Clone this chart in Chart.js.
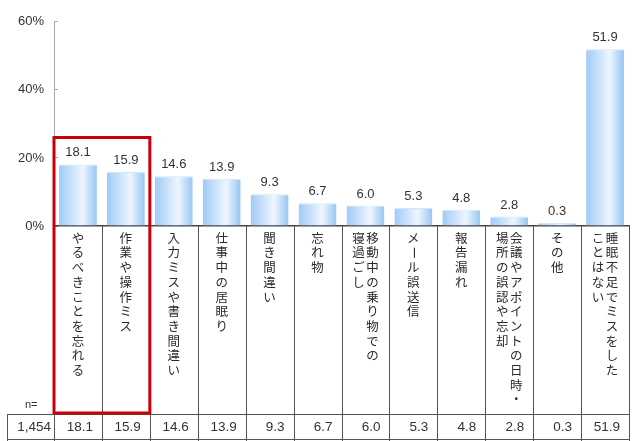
<!DOCTYPE html>
<html lang="ja">
<head>
<meta charset="utf-8">
<script src="https://cdn.jsdelivr.net/npm/chart.js@4.4.1/dist/chart.umd.min.js"></script>
<style>
  html, body { margin: 0; padding: 0; background: #fff; }
  #wrap { position: relative; width: 640px; height: 441px; }
</style>
</head>
<body>
<div id="wrap"><canvas id="grafico"></canvas></div>
<script>
// Categorías (cada elemento = columnas de texto vertical, de derecha a izquierda)
const categorias = [
    ['やるべきことを忘れる'],
    ['作業や操作ミス'],
    ['入力ミスや書き間違い'],
    ['仕事中の居眠り'],
    ['聞き間違い'],
    ['忘れ物'],
    ['移動中の乗り物での', '寝過ごし'],
    ['メール誤送信'],
    ['報告漏れ'],
    ['会議やアポイントの日時・', '場所の誤認や忘却'],
    ['その他'],
    ['睡眠不足でミスをした', 'ことはない']
];
const valores = [18.1, 15.9, 14.6, 13.9, 9.3, 6.7, 6.0, 5.3, 4.8, 2.8, 0.3, 51.9];
const ticksY = [0, 20, 40, 60];
const etiquetaN = 'n=';
const totalN = '1,454';
const resaltados = [0, 1];
const topeResaltado = 26; // valor del eje donde empieza el recuadro rojo

const fuenteLatina = '"Liberation Sans", Arial, sans-serif';
const fuenteJP = '"Noto Sans CJK JP", sans-serif';

// Layout (píxeles)
const filaArriba = 414;
const filaAbajo = 439;
const tablaIzq = 7;

function degradado(context) {
    const chart = context.chart;
    if (!chart.chartArea || !chart.scales.x) return '#b8dafa';
    const x = chart.scales.x.getPixelForValue(context.dataIndex);
    const w = (chart.scales.x.getPixelForValue(1) - chart.scales.x.getPixelForValue(0)) * 0.79 / 2;
    const g = chart.ctx.createLinearGradient(x - w, 0, x + w, 0);
    g.addColorStop(0, '#9fcbf6');
    g.addColorStop(0.62, '#eef6fe');
    g.addColorStop(1, '#96c6f4');
    return g;
}

const etiquetasBarras = {
    id: 'etiquetasBarras',
    afterDatasetsDraw(chart) {
        const ctx = chart.ctx;
        const meta = chart.getDatasetMeta(0);
        ctx.save();
        ctx.font = '13px ' + fuenteLatina;
        ctx.fillStyle = '#333';
        ctx.textAlign = 'center';
        ctx.textBaseline = 'bottom';
        meta.data.forEach((bar, i) => {
            ctx.fillText(valores[i].toFixed(1), bar.x, bar.y - 5);
        });
        ctx.restore();
    }
};

const tablaPlugin = {
    id: 'tablaPlugin',
    afterDraw(chart) {
        const { ctx, chartArea: a, scales: { x, y } } = chart;
        const medio = (x.getPixelForValue(1) - x.getPixelForValue(0)) / 2;
        ctx.save();

        // Separadores de columnas
        ctx.strokeStyle = '#555';
        ctx.lineWidth = 1;
        for (let i = 0; i <= categorias.length; i++) {
            const px = Math.round(x.getPixelForValue(i) - medio) + 0.5;
            ctx.beginPath();
            ctx.moveTo(px, a.bottom);
            ctx.lineTo(px, 441);
            ctx.stroke();
        }
        // Fila de la tabla
        ctx.beginPath();
        ctx.moveTo(tablaIzq, filaArriba + 0.5);
        ctx.lineTo(a.right, filaArriba + 0.5);
        ctx.moveTo(tablaIzq, filaAbajo + 0.5);
        ctx.lineTo(a.right, filaAbajo + 0.5);
        ctx.moveTo(tablaIzq + 0.5, filaArriba);
        ctx.lineTo(tablaIzq + 0.5, 441);
        ctx.stroke();

        // Texto vertical de las categorías
        ctx.font = '12.5px ' + fuenteJP;
        ctx.fillStyle = '#2a2a2a';
        ctx.textAlign = 'center';
        ctx.textBaseline = 'middle';
        const paso = 14.7;
        categorias.forEach((cols, i) => {
            const cx = x.getPixelForValue(i);
            cols.forEach((linea, k) => {
                const lx = cx + (cols.length - 1) * 7 - k * 14;
                [...linea].forEach((ch, j) => {
                    const ly = a.bottom + 12 + j * paso;
                    if (ch === 'ー') {
                        ctx.save();
                        ctx.translate(lx, ly);
                        ctx.rotate(Math.PI / 2);
                        ctx.fillText(ch, 0, 0);
                        ctx.restore();
                    } else {
                        ctx.fillText(ch, lx, ly);
                    }
                });
            });
        });

        // n= y valores de la tabla
        ctx.font = '11px ' + fuenteLatina;
        ctx.fillStyle = '#333';
        ctx.textAlign = 'left';
        ctx.fillText(etiquetaN, 25, filaArriba - 9);
        ctx.font = '13.5px ' + fuenteLatina;
        ctx.textAlign = 'right';
        const filaY = (filaArriba + filaAbajo) / 2 + 1;
        ctx.fillText(totalN, a.left - 3, filaY);
        valores.forEach((v, i) => {
            ctx.fillText(v.toFixed(1), x.getPixelForValue(i) + medio - 9, filaY);
        });

        // Recuadro rojo
        const x0 = x.getPixelForValue(resaltados[0]) - medio;
        const x1 = x.getPixelForValue(resaltados[resaltados.length - 1]) + medio;
        const y0 = y.getPixelForValue(topeResaltado);
        ctx.strokeStyle = '#c8000a';
        ctx.lineWidth = 3;
        ctx.strokeRect(x0, y0, x1 - x0, filaArriba - 1 - y0);
        ctx.restore();
    }
};

new Chart(document.getElementById('grafico'), {
    type: 'bar',
    data: {
        labels: categorias.map(c => c.join('')),
        datasets: [{
            data: valores,
            backgroundColor: degradado,
            borderColor: '#cfe6fc',
            borderWidth: { top: 1, left: 0, right: 0, bottom: 0 },
            barPercentage: 0.79,
            categoryPercentage: 1,
            minBarLength: 3
        }]
    },
    options: {
        responsive: true,
        maintainAspectRatio: false,
        animation: false,
        layout: { padding: { top: 19, right: 11, left: 0, bottom: 0 } },
        plugins: {
            legend: { display: false },
            tooltip: { enabled: false }
        },
        scales: {
            x: {
                ticks: { display: false },
                grid: { display: false },
                border: { display: true, color: '#444', width: 1.5 },
                afterFit(scale) { scale.height = 441 - 226; }
            },
            y: {
                min: ticksY[0],
                max: ticksY[ticksY.length - 1],
                afterBuildTicks(scale) { scale.ticks = ticksY.map(v => ({ value: v })); },
                ticks: {
                    callback: v => v + '%',
                    color: '#333',
                    font: { family: fuenteLatina, size: 13 },
                    padding: 14
                },
                // marcas hacia dentro del área
                grid: { drawOnChartArea: false, tickLength: -4, color: '#aaa' },
                border: { color: '#aaa' },
                afterFit(scale) { scale.width = 54; }
            }
        }
    },
    plugins: [etiquetasBarras, tablaPlugin]
});
</script>
</body>
</html>
